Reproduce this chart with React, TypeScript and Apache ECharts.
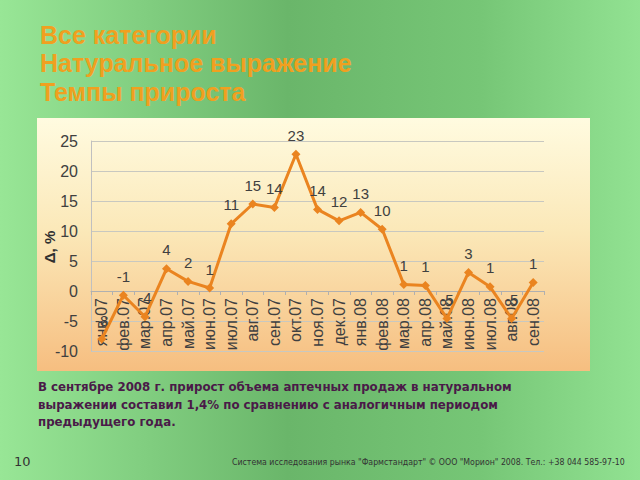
import React, { useEffect, useRef } from "react";
import * as echarts from "echarts";

const categories = [
  "янв.07", "фев.07", "мар.07", "апр.07", "май.07", "июн.07", "июл.07", "авг.07",
  "сен.07", "окт.07", "ноя.07", "дек.07", "янв.08", "фев.08", "мар.08", "апр.08",
  "май.08", "июн.08", "июл.08", "авг.08", "сен.08",
];
const growth = [
  -8.0, -0.7, -4.3, 3.7, 1.6, 0.5, 11.2, 14.5, 13.9, 22.8, 13.6, 11.7, 13.1, 10.3,
  1.1, 0.9, -4.6, 3.1, 0.7, -4.6, 1.4,
];
const titleLines = ["Все категории", "Натуральное выражение", "Темпы прироста"];
const yAxisName = "Δ, %";
const noteLines = [
  "В сентябре 2008 г. прирост объема аптечных продаж в натуральном",
  "выражении составил 1,4% по сравнению с аналогичным периодом",
  "предыдущего года.",
];
const footer = "Система исследования рынка \"Фармстандарт\" © ООО \"Морион\" 2008. Тел.: +38 044 585-97-10";
const pageNumber = "10";

export default function App() {
  const ref = useRef<HTMLDivElement>(null);
  useEffect(() => {
    document.body.style.margin = "0";
    const chart = echarts.init(ref.current!, null, { renderer: "svg" });
    const graphics: any[] = [
      {
        type: "rect", z: -10, silent: true,
        shape: { x: 0, y: 0, width: 640, height: 480 },
        style: {
          fill: new echarts.graphic.LinearGradient(0, 0, 1, 0, [
            { offset: 0, color: "#98e696" },
            { offset: 0.45, color: "#6ab66a" },
            { offset: 0.75, color: "#76c676" },
            { offset: 1, color: "#92e292" },
          ]),
        },
      },
      {
        type: "rect", z: -9, silent: true,
        shape: { x: 37, y: 118, width: 553, height: 253 },
        style: {
          fill: new echarts.graphic.LinearGradient(0, 0, 0, 1, [
            { offset: 0, color: "#fffbe0" },
            { offset: 0.45, color: "#fbe8b8" },
            { offset: 1, color: "#f6be80" },
          ]),
        },
      },
      {
        type: "text", x: 49, y: 247, rotation: Math.PI / 2,
        style: {
          text: yAxisName, fill: "#303030", align: "center", verticalAlign: "middle",
          font: "bold 15px 'Liberation Sans', Arial, sans-serif",
        },
      },
    ];
    titleLines.forEach((t, i) => {
      graphics.push({
        type: "text", left: 40, top: 22 + i * 28.5,
        style: { text: t, fill: "#f0a020", font: "bold 25px 'Liberation Sans', Arial, sans-serif" },
      });
    });
    noteLines.forEach((t, i) => {
      graphics.push({
        type: "text", left: 38, top: 381 + i * 17.5,
        style: { text: t, fill: "#4a1a48", font: "bold 11.8px 'DejaVu Sans', sans-serif" },
      });
    });
    graphics.push({
      type: "text", left: 14, top: 455,
      style: { text: pageNumber, fill: "#333", font: "13px 'DejaVu Sans', sans-serif" },
    });
    graphics.push({
      type: "text", left: 232, top: 457,
      style: { text: footer, fill: "#333", font: "8.7px 'DejaVu Sans Condensed', 'DejaVu Sans', sans-serif" },
    });

    chart.setOption({
      animation: false,
      graphic: graphics,
      grid: { left: 91, right: 96, top: 141, bottom: 129 },
      xAxis: {
        type: "category",
        data: categories,
        offset: -60,
        axisLine: { onZero: false, lineStyle: { color: "#b0b0b0" } },
        axisTick: { show: true, length: 4, lineStyle: { color: "#b0b0b0" } },
        axisLabel: {
          rotate: 90, fontSize: 16, color: "#404040", margin: 7,
          fontFamily: "'Liberation Sans', Arial, sans-serif",
        },
      },
      yAxis: {
        type: "value",
        min: -10, max: 25, interval: 5,
        axisLine: { show: true, lineStyle: { color: "#c0c0c0" } },
        axisTick: { show: false },
        axisLabel: { fontSize: 16, color: "#404040", margin: 13, fontFamily: "'Liberation Sans', Arial, sans-serif" },
        splitLine: { lineStyle: { color: "#c8c8c0" } },
      },
      series: [
        {
          type: "line",
          data: growth,
          color: "#ea8420",
          lineStyle: { width: 3, color: "#ea8420" },
          symbol: "diamond",
          symbolSize: 9,
          itemStyle: { color: "#ea8420" },
          label: {
            show: true, position: "top", distance: 7, fontSize: 15, color: "#404040",
            fontFamily: "'Liberation Sans', Arial, sans-serif",
            formatter: (p: any) => String(Math.sign(p.value) * Math.round(Math.abs(p.value))),
          },
        },
      ],
    });
    return () => chart.dispose();
  }, []);
  return <div ref={ref} style={{ width: 640, height: 480 }} />;
}
